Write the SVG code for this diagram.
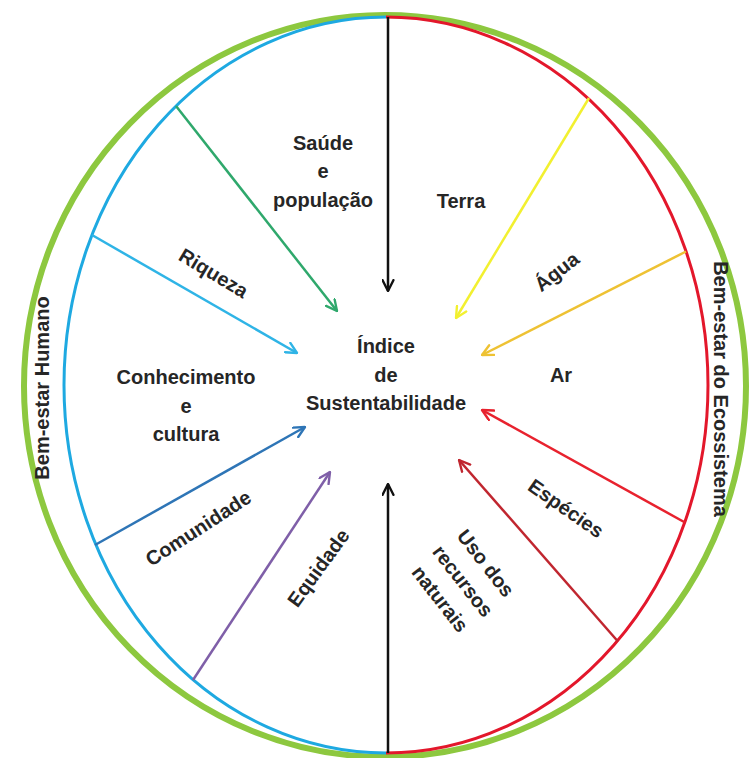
<svg xmlns="http://www.w3.org/2000/svg" width="750" height="758" viewBox="0 0 750 758">
<style>
.t{font-family:"Liberation Sans",Arial,sans-serif;font-weight:bold;font-size:20px;fill:#262626;text-anchor:middle}
.a{fill:none;stroke-width:2.5}
.m{fill:none;stroke-width:2.2;stroke-linecap:round;stroke-linejoin:round}
</style>
<defs>
<marker id="mk" viewBox="0 0 12 12" refX="11" refY="6" markerWidth="13" markerHeight="13" markerUnits="userSpaceOnUse" orient="auto"><path class="m" d="M1,1 L11,6 L1,11" stroke="#111"/></marker>
<marker id="mgr" viewBox="0 0 12 12" refX="11" refY="6" markerWidth="13" markerHeight="13" markerUnits="userSpaceOnUse" orient="auto"><path class="m" d="M1,1 L11,6 L1,11" stroke="#2fa86c"/></marker>
<marker id="mlb" viewBox="0 0 12 12" refX="11" refY="6" markerWidth="13" markerHeight="13" markerUnits="userSpaceOnUse" orient="auto"><path class="m" d="M1,1 L11,6 L1,11" stroke="#2fb4e6"/></marker>
<marker id="msb" viewBox="0 0 12 12" refX="11" refY="6" markerWidth="13" markerHeight="13" markerUnits="userSpaceOnUse" orient="auto"><path class="m" d="M1,1 L11,6 L1,11" stroke="#2e75b6"/></marker>
<marker id="mpu" viewBox="0 0 12 12" refX="11" refY="6" markerWidth="13" markerHeight="13" markerUnits="userSpaceOnUse" orient="auto"><path class="m" d="M1,1 L11,6 L1,11" stroke="#7f5fa8"/></marker>
<marker id="mye" viewBox="0 0 12 12" refX="11" refY="6" markerWidth="13" markerHeight="13" markerUnits="userSpaceOnUse" orient="auto"><path class="m" d="M1,1 L11,6 L1,11" stroke="#f2f030"/></marker>
<marker id="mgo" viewBox="0 0 12 12" refX="11" refY="6" markerWidth="13" markerHeight="13" markerUnits="userSpaceOnUse" orient="auto"><path class="m" d="M1,1 L11,6 L1,11" stroke="#eec233"/></marker>
<marker id="mre" viewBox="0 0 12 12" refX="11" refY="6" markerWidth="13" markerHeight="13" markerUnits="userSpaceOnUse" orient="auto"><path class="m" d="M1,1 L11,6 L1,11" stroke="#e8222e"/></marker>
<marker id="mdr" viewBox="0 0 12 12" refX="11" refY="6" markerWidth="13" markerHeight="13" markerUnits="userSpaceOnUse" orient="auto"><path class="m" d="M1,1 L11,6 L1,11" stroke="#c0262f"/></marker>
</defs>
<rect width="750" height="758" fill="#fff"/>
<g id="outer-ring">
<ellipse cx="385" cy="386" rx="361" ry="371" fill="none" stroke="#8dc83f" stroke-width="6"/>
</g>
<g id="human-arc">
<path d="M386,17 A322,368 0 0 0 386,753" fill="none" stroke="#1ea9e1" stroke-width="3"/>
</g>
<g id="eco-arc">
<path d="M386,17 A322,368 0 0 1 386,753" fill="none" stroke="#e3172b" stroke-width="3"/>
</g>
<g id="connectors">
<line class="a" x1="388" y1="17" x2="388" y2="291" stroke="#111" marker-end="url(#mk)"/>
<line class="a" x1="388" y1="753" x2="388" y2="484" stroke="#111" marker-end="url(#mk)"/>
<line class="a" x1="176" y1="106" x2="337" y2="311" stroke="#2fa86c" marker-end="url(#mgr)"/>
<line class="a" x1="92" y1="235" x2="297" y2="353" stroke="#2fb4e6" marker-end="url(#mlb)"/>
<line class="a" x1="95" y1="545" x2="305" y2="427" stroke="#2e75b6" marker-end="url(#msb)"/>
<line class="a" x1="193" y1="680" x2="330" y2="472" stroke="#7f5fa8" marker-end="url(#mpu)"/>
<line class="a" x1="589" y1="98" x2="456" y2="318" stroke="#f2f030" marker-end="url(#mye)"/>
<line class="a" x1="686" y1="251.5" x2="482" y2="355" stroke="#eec233" marker-end="url(#mgo)"/>
<line class="a" x1="685" y1="522.5" x2="482" y2="410" stroke="#e8222e" marker-end="url(#mre)"/>
<line class="a" x1="618" y1="641.5" x2="459" y2="460" stroke="#c0262f" marker-end="url(#mdr)"/>
</g>
<g id="center">
<text class="t" x="386" y="353">Índice</text>
<text class="t" x="386" y="382">de</text>
<text class="t" x="386" y="410">Sustentabilidade</text>
</g>
<g id="saude"><text class="t" x="323" y="150">Saúde</text><text class="t" x="323" y="178">e</text><text class="t" x="323" y="207">população</text></g>
<g id="terra"><text class="t" x="461" y="208">Terra</text></g>
<g id="agua"><text class="t" transform="translate(561,277) rotate(-38)">Água</text></g>
<g id="ar"><text class="t" x="561" y="382">Ar</text></g>
<g id="especies"><text class="t" transform="translate(562,514) rotate(35)">Espécies</text></g>
<g id="uso"><g transform="translate(463,581) rotate(52)"><text class="t" y="-22">Uso dos</text><text class="t" y="7">recursos</text><text class="t" y="36">naturais</text></g></g>
<g id="riqueza"><text class="t" transform="translate(210,279) rotate(31)">Riqueza</text></g>
<g id="conhecimento"><text class="t" x="186" y="384">Conhecimento</text><text class="t" x="186" y="413">e</text><text class="t" x="186" y="441">cultura</text></g>
<g id="comunidade"><text class="t" transform="translate(202,534) rotate(-33)">Comunidade</text></g>
<g id="equidade"><text class="t" transform="translate(324,572) rotate(-54)">Equidade</text></g>
<g id="bem-estar-humano"><text class="t" transform="translate(49,388) rotate(-90)">Bem-estar Humano</text></g>
<g id="bem-estar-eco"><text class="t" transform="translate(714,389) rotate(90)">Bem-estar do Ecossistema</text></g>
</svg>
